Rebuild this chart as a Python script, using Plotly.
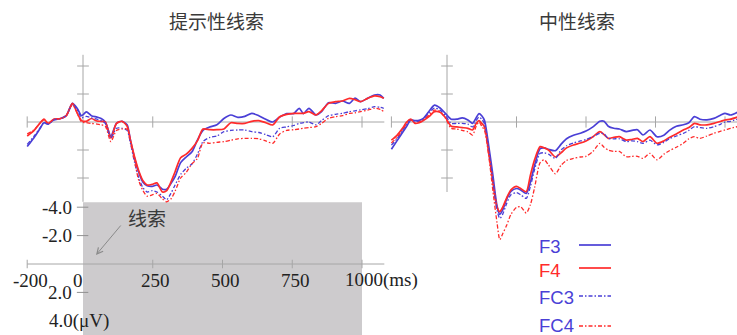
import plotly.graph_objects as go

# ---------------- data ----------------
# Left panel (提示性线索): time in ms, amplitude in µV (negative plotted upward)
t_left = [-200, -175, -155, -140, -125, -105, -80, -60, -38, -20, -5, 12, 30, 50, 65, 80,
          100, 120, 140, 158, 170, 185, 200, 215, 230, 248, 265, 285, 300, 315, 330, 350,
          370, 390, 410, 430, 455, 480, 505, 530, 555, 580, 605, 630, 655, 680, 705, 730,
          755, 775, 790, 810, 835, 855, 880, 905, 930, 955, 975, 995, 1020, 1045, 1065, 1078]
F3_left = [1.75, 1.1, 0.5, 0.05, 0.15, -0.15, -0.25, -0.45, -1.33, -0.95, -0.45, -0.72, -0.45, -0.35, -0.25, 0.0,
           1.0, 0.1, -0.05, 0.2, 1.3, 2.6, 3.6, 4.3, 4.55, 4.6, 4.5, 4.8, 4.8, 4.4, 3.9, 2.9,
           2.5, 2.15, 1.3, 0.6, 0.35, 0.2, -0.25, -0.5, -0.33, -0.4, -0.62, -0.45, -0.2, 0.0, -0.35, -0.6,
           -0.6, -0.98, -0.6, -0.98, -0.5, -0.74, -1.38, -1.33, -1.5, -1.33, -1.7, -1.45, -1.7, -1.93, -1.93, -1.69]
F4_left = [1.0, 0.6, 0.1, -0.2, 0.1, -0.2, -0.25, -0.45, -1.33, -0.6, -0.1, -0.05, -0.25, -0.07, -0.05, 0.0,
           1.15, 0.1, -0.05, 0.3, 1.3, 2.5, 3.5, 4.2, 4.5, 4.45, 4.35, 5.0, 4.9, 4.3, 3.55, 2.55,
           2.3, 1.9, 1.35, 0.5, 0.55, 0.55, 0.5, 0.05, 0.1, 0.1, -0.05, -0.1, 0.05, 0.21, -0.38, -0.55,
           -0.62, -0.62, -0.62, -0.74, -0.5, -0.8, -1.33, -1.45, -1.5, -1.69, -1.6, -1.45, -1.69, -1.86, -1.8, -1.69]
FC3_left = [1.6, 1.0, 0.45, 0.05, 0.15, -0.15, -0.25, -0.45, -1.25, -0.85, -0.3, -0.4, -0.3, -0.2, -0.1, 0.1,
            1.15, 0.45, 0.45, 0.6, 1.5, 2.9, 4.0, 4.7, 5.0, 4.9, 5.0, 5.3, 5.55, 5.1, 4.5, 3.75,
            3.3, 3.0, 2.3, 1.4, 1.1, 1.0, 0.69, 0.6, 0.57, 0.57, 0.69, 0.75, 0.9, 1.05, 0.45, 0.35,
            0.25, 0.1, 0.05, 0.0, 0.2, -0.1, -0.45, -0.55, -0.62, -0.74, -0.8, -0.86, -0.95, -1.1, -1.05, -0.98]
FC4_left = [0.85, 0.55, 0.1, -0.15, 0.1, -0.2, -0.25, -0.45, -1.25, -0.6, 0.0, 0.05, 0.1, 0.15, 0.2, 0.3,
            1.4, 0.6, 0.5, 0.5, 1.4, 2.8, 4.2, 4.9, 5.3, 5.2, 5.1, 5.5, 5.7, 5.5, 4.95, 4.0,
            3.6, 3.0, 2.6, 1.5, 1.52, 1.45, 1.4, 1.3, 1.2, 1.17, 1.17, 1.2, 1.35, 1.52, 0.85, 0.6,
            0.55, 0.5, 0.45, 0.4, 0.33, 0.1, -0.26, -0.38, -0.45, -0.62, -0.65, -0.74, -0.85, -0.98, -0.9, -0.74]

# Right panel (中性线索)
t_right = [-200, -180, -160, -145, -130, -115, -100, -85, -65, -45, -25, -5, 15, 35, 55, 75,
           92, 105, 115, 125, 135, 150, 165, 180, 190, 200, 215, 230, 250, 265, 285, 300,
           315, 335, 350, 365, 390, 410, 430, 455, 480, 500, 525, 550, 565, 580, 600, 620,
           645, 665, 685, 705, 730, 755, 780, 800, 825, 850, 870, 890, 910, 935, 960, 985,
           1000, 1020, 1045]
F3_right = [1.95, 1.35, 0.75, 0.3, -0.15, -0.1, -0.12, -0.26, -0.75, -1.2, -1.0, -0.6, -0.2, -0.2, -0.3, -0.15,
            0.1, -0.3, -0.6, -0.45, -0.1, 1.7, 3.8, 6.0, 6.6, 6.3, 5.5, 4.95, 4.75, 4.85, 5.1, 4.3,
            3.1, 1.9, 1.85, 1.95, 2.05, 1.6, 1.2, 0.95, 0.8, 0.65, 0.35, -0.05, -0.05, 0.3, 0.45, 0.5,
            0.69, 0.6, 0.55, 0.93, 0.57, 1.05, 0.95, 0.6, 0.3, 0.2, 0.05, -0.38, -0.2, -0.15, -0.26, -0.5,
            -0.62, -0.5, -0.7]
F4_right = [1.3, 0.95, 0.45, 0.0, -0.2, 0.1, 0.05, -0.1, -0.38, -0.74, -0.7, -0.3, 0.3, 0.35, 0.4, 0.45,
            0.57, 0.1, -0.1, 0.1, 0.35, 2.2, 4.3, 6.1, 6.4, 6.1, 5.4, 4.85, 4.6, 4.75, 4.98, 3.8,
            2.7, 1.76, 1.85, 2.0, 2.5, 2.2, 1.85, 1.64, 1.5, 1.35, 1.05, 0.69, 0.9, 1.17, 1.1, 1.05,
            1.29, 1.25, 1.17, 1.4, 1.05, 1.52, 1.35, 1.1, 0.85, 0.57, 0.4, 0.1, 0.2, 0.2, 0.1, -0.05,
            -0.14, -0.2, -0.35]
FC3_right = [1.65, 1.2, 0.6, 0.15, -0.15, -0.05, -0.05, -0.2, -0.65, -1.0, -0.85, -0.45, 0.1, 0.1, 0.1, 0.15,
             0.35, -0.1, -0.35, -0.2, 0.15, 2.0, 4.2, 6.3, 6.9, 6.6, 5.8, 5.2, 5.05, 5.2, 5.45, 4.6,
             3.4, 2.24, 2.2, 2.3, 2.6, 2.0, 1.7, 1.5, 1.35, 1.25, 1.05, 0.81, 0.85, 1.17, 1.2, 1.2,
             1.4, 1.35, 1.4, 1.52, 1.3, 1.64, 1.45, 1.2, 1.0, 0.81, 0.6, 0.33, 0.4, 0.45, 0.33, 0.15,
             0.0, -0.05, -0.2]
FC4_right = [1.5, 1.1, 0.55, 0.1, -0.15, 0.05, 0.0, -0.15, -0.5, -0.85, -0.75, -0.25, 0.45, 0.5, 0.6, 0.7,
             0.93, 0.3, 0.0, 0.3, 0.6, 2.4, 4.9, 7.2, 8.4, 8.0, 7.36, 6.6, 6.1, 6.05, 6.5, 5.9,
             4.7, 2.9, 2.7, 3.07, 3.7, 3.1, 2.75, 2.6, 2.5, 2.45, 2.1, 1.52, 1.8, 2.0, 2.1, 2.1,
             2.48, 2.45, 2.45, 2.6, 2.24, 2.7, 2.3, 2.05, 1.8, 1.52, 1.2, 1.05, 1.17, 1.0, 0.81, 0.65,
             0.57, 0.45, 0.33]

series_names = ["F3", "F4", "FC3", "FC4"]
panel_titles = ["提示性线索", "中性线索"]
upper_yticks = [-4, -2, 2, 4]
left_xticks = [-200, 250, 750, 1000]
right_xticks = [-200, 250, 500, 750, 1000]
scale_xticks = [-200, 0, 250, 500, 750, 1000]
scale_xlabels = ["-200", "0", "250", "500", "750", "1000(ms)"]
scale_yticks = [-4, -2, 2, 4]
scale_ylabels = ["-4.0", "-2.0", "2.0", "4.0(μV)"]
cue_label = "线索"

# ---------------- styles ----------------
W, H = 737, 335
BLUE = "#4a3fd6"
RED = "#ff2b2b"
AXC = "#a6a6a6"
DASHDOT = "4px,2px,1.5px,2px"
styles = {
    "F3": dict(color=BLUE, width=1.7, dash="solid"),
    "F4": dict(color=RED, width=1.7, dash="solid"),
    "FC3": dict(color=BLUE, width=1.3, dash=DASHDOT),
    "FC4": dict(color=RED, width=1.3, dash=DASHDOT),
}

fig = go.Figure()
left_data = [F3_left, F4_left, FC3_left, FC4_left]
right_data = [F3_right, F4_right, FC3_right, FC4_right]
for name, yl, yr in zip(series_names, left_data, right_data):
    fig.add_trace(go.Scatter(x=t_left, y=yl, mode="lines", line=dict(shape="spline", smoothing=0.7, **styles[name]),
                             xaxis="x", yaxis="y", showlegend=False, hoverinfo="skip"))
    fig.add_trace(go.Scatter(x=t_right, y=yr, mode="lines", line=dict(shape="spline", smoothing=0.7, **styles[name]),
                             xaxis="x2", yaxis="y", showlegend=False, hoverinfo="skip"))

# pixel mapping helpers (left: 0 ms at px 83, 0.279 px/ms; right: 0 ms at px 447, 0.278 px/ms)
xl_px0, xl_k = 83, 0.279
xr_px0, xr_k = 447, 0.278
y_px0, y_k = 122, 14.0
ys_px0, ys_k = 264, 14.2
dl_end = 386
dr_start = 388

fig.update_layout(
    width=W, height=H, margin=dict(l=0, r=0, t=0, b=0),
    paper_bgcolor="white", plot_bgcolor="rgba(0,0,0,0)",
    xaxis=dict(domain=[0, dl_end / W], range=[(0 - xl_px0) / xl_k, (dl_end - xl_px0) / xl_k],
               visible=False, anchor="y"),
    xaxis2=dict(domain=[dr_start / W, 1], range=[(dr_start - xr_px0) / xr_k, (W - xr_px0) / xr_k],
                visible=False, anchor="y"),
    yaxis=dict(domain=[0, 1], range=[(H - y_px0) / y_k, (0 - y_px0) / y_k], visible=False, anchor="x"),
    yaxis3=dict(domain=[0, 1], range=[(H - ys_px0) / ys_k, (0 - ys_px0) / ys_k], visible=False,
                overlaying="y", anchor="x"),
    showlegend=False,
)

shapes = []
def seg(xref, yref, x0, y0, x1, y1, color=AXC, width=1, layer="above"):
    shapes.append(dict(type="line", xref=xref, yref=yref, x0=x0, y0=y0, x1=x1, y1=y1,
                       line=dict(color=color, width=width), layer=layer))

# gray scale box
shapes.append(dict(type="rect", xref="x", yref="y3", x0=0, x1=1000, y0=-4.35, y1=6,
                   fillcolor="#cdcbcd", line=dict(width=0), layer="below"))

# upper-left axes
seg("x", "y", -200, 0, 1080, 0, layer="below")
seg("x", "y", 0, -4.8, 0, 5.7, layer="below")
for v in upper_yticks:
    seg("x", "y", -21, v, 21, v, layer="below")
for t in left_xticks:
    seg("x", "y", t, -0.4, t, 0.4, layer="below")
# upper-right axes
seg("x2", "y", -200, 0, 1050, 0, layer="below")
seg("x2", "y", 0, -4.8, 0, 5.0, layer="below")
for v in upper_yticks:
    seg("x2", "y", -21, v, 21, v, layer="below")
for t in right_xticks:
    seg("x2", "y", t, -0.4, t, 0.4, layer="below")
# scale axes
seg("x", "y3", -200, 0, 1080, 0, layer="below")
for t in [tt for tt in scale_xticks if tt != 0]:
    seg("x", "y3", t, -0.3, t, 0.3, layer="below")
for v in scale_yticks[:3]:
    seg("x", "y3", -22, v, 19, v, color="#909090", layer="below")

# legend swatches
leg_y = [245, 268, 296, 326]
for name, py in zip(series_names, leg_y):
    st = styles[name]
    shapes.append(dict(type="line", xref="paper", yref="paper", x0=579 / W, x1=611 / W,
                       y0=1 - py / H, y1=1 - py / H,
                       line=dict(color=st["color"], width=st["width"], dash=st["dash"])))
fig.update_layout(shapes=shapes)

ann = []
serif = dict(family="Liberation Serif, Times New Roman, serif", size=19, color="#222222")
cjk = dict(family="Noto Sans CJK SC, sans-serif", size=19, color="#3a3a3a")
# titles
ann.append(dict(text=panel_titles[0], xref="paper", yref="paper", x=216 / W, y=1 - 21 / H,
                showarrow=False, font=cjk, xanchor="center", yanchor="middle"))
ann.append(dict(text=panel_titles[1], xref="paper", yref="paper", x=577 / W, y=1 - 21 / H,
                showarrow=False, font=cjk, xanchor="center", yanchor="middle"))
# scale x labels
for t, lab in zip(scale_xticks, scale_xlabels):
    if lab.endswith("(ms)"):
        ann.append(dict(text=lab, x=t, y=0, xref="x", yref="y3", showarrow=False, font=serif,
                        xanchor="left", yanchor="middle", xshift=-19, yshift=-16))
    elif t == 0:
        ann.append(dict(text=lab, x=t, y=0, xref="x", yref="y3", showarrow=False, font=serif,
                        xanchor="center", yanchor="middle", xshift=-5, yshift=-16))
    else:
        ann.append(dict(text=lab, x=t, y=0, xref="x", yref="y3", showarrow=False, font=serif,
                        xanchor="center", yanchor="middle", xshift=3, yshift=-16))
# scale y labels
for v, lab in zip(scale_yticks, scale_ylabels):
    if "μV" in lab:
        ann.append(dict(text=lab, x=0, y=v, xref="x", yref="y3", showarrow=False, font=serif,
                        xanchor="left", yanchor="middle", xshift=-36))
    else:
        ann.append(dict(text=lab, x=0, y=v, xref="x", yref="y3", showarrow=False, font=serif,
                        xanchor="right", yanchor="middle", xshift=-9))
# cue label and arrow
ann.append(dict(text=cue_label, x=(147 - xl_px0) / xl_k, y=(217 - ys_px0) / ys_k, xref="x", yref="y3",
                showarrow=False, font=cjk, xanchor="center", yanchor="middle"))
ann.append(dict(text="", x=(96 - xl_px0) / xl_k, y=(255 - ys_px0) / ys_k, xref="x", yref="y3",
                ax=(122 - xl_px0) / xl_k, ay=(224 - ys_px0) / ys_k, axref="x", ayref="y3",
                showarrow=True, arrowhead=5, arrowsize=1.2, arrowwidth=1, arrowcolor="#8a8a8a"))
# legend texts
leg_text_colors = [BLUE, RED, BLUE, BLUE]
leg_text_y = [246, 270, 297, 325]
for name, col, py in zip(series_names, leg_text_colors, leg_text_y):
    ann.append(dict(text=name, xref="paper", yref="paper", x=537 / W, y=1 - py / H, showarrow=False,
                    xanchor="left", yanchor="middle",
                    font=dict(family="Liberation Sans, Arial, sans-serif", size=18.5, color=col)))
fig.update_layout(annotations=ann)

fig.write_html("out.html", config={"displayModeBar": False},
               post_script="document.body.style.margin='0';document.body.style.padding='0';"
                           "document.body.style.overflow='hidden';")
